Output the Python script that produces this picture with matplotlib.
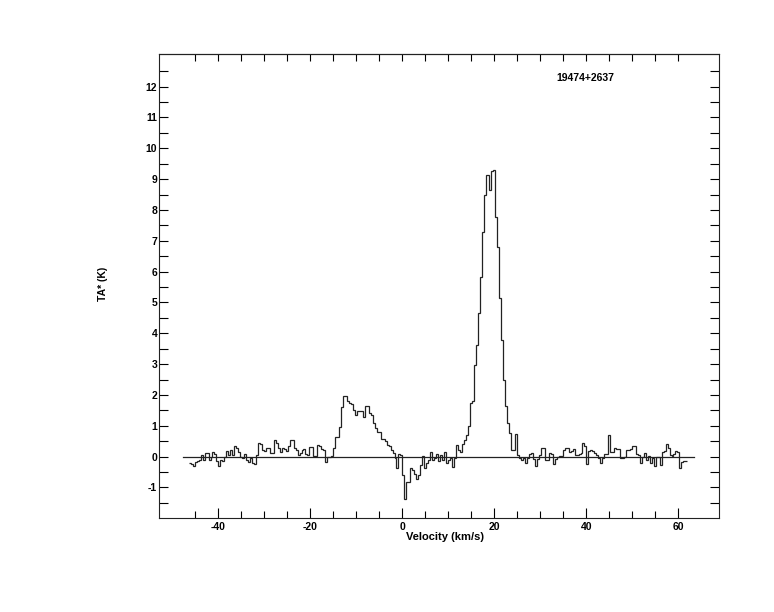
import numpy as np
import matplotlib
matplotlib.use("Agg")
import matplotlib.pyplot as plt
from matplotlib.ticker import FixedLocator

# ---- data (antenna temperature per channel, K) ----
source_name = "19474+2637"
v_start = -46.4        # km/s, left edge of first channel
channel_width = 0.430  # km/s

ta_blue_wing = [
    -0.20, -0.24, -0.29, -0.17, -0.13, -0.10, 0.05, -0.10, 0.12, 0.11,
    -0.10, -0.01, 0.16, 0.10, -0.15, -0.31, -0.10, -0.13, -0.01, 0.17,
    0.06, 0.20, 0.06, 0.36, 0.28, 0.14, -0.02, -0.06, 0.10, -0.10,
    -0.18, -0.06, -0.20, -0.23, 0.05, 0.45, 0.41, 0.23, 0.17, 0.28,
    0.28, 0.12, 0.12, 0.54, 0.44, 0.28, 0.15, 0.29, 0.26, 0.19,
    0.33, 0.55, 0.55, 0.28, 0.20, 0.06, 0.12, 0.20, 0.25, 0.10,
    0.06, 0.30, 0.30, 0.03, 0.03, 0.38, 0.33, 0.25, 0.20, -0.18,
    -0.01, -0.01,
]
ta_bump = [
    0.02, 0.28, 0.63, 0.63, 0.97, 1.60, 1.98, 1.98, 1.79, 1.75,
    1.70, 1.52, 1.36, 1.47, 1.47, 1.47, 1.27, 1.65, 1.65, 1.41,
    1.36, 1.10, 0.93, 0.79, 0.79, 0.58, 0.58, 0.50, 0.39, 0.33,
    0.23, 0.12, -0.06, -0.37, 0.07, 0.05, -0.58, -1.39,
]
ta_dip = [
    -0.83, -0.83, -0.37, -0.42, -0.55, -0.72, -0.58, -0.26, 0.01, -0.37,
    -0.20, -0.10, 0.14, -0.12, -0.04, 0.10, -0.15, 0.06, -0.10, 0.14,
    -0.20, -0.10, -0.04, -0.33, -0.05,
]
ta_peak = [
    0.37, 0.20, 0.15, 0.40, 0.55, 0.70, 0.98, 1.74, 1.79, 2.98,
    3.62, 4.65, 5.84, 7.29, 8.48, 9.13, 9.13, 8.66, 9.28, 9.30,
    7.78, 6.80, 5.14, 3.79, 2.49, 1.63, 1.10, 0.77, 0.23, 0.23,
    0.75,
]
ta_red_wing = [
    0.06, -0.04, -0.10, -0.04, -0.20, -0.04, 0.10, 0.12, -0.08, -0.31,
    -0.08, 0.06, 0.28, 0.28, -0.12, -0.10, 0.12, 0.09, -0.23, -0.08,
    -0.01, 0.03, 0.01, 0.23, 0.28, 0.28, 0.14, 0.17, 0.25, 0.06,
    0.06, 0.09, 0.12, 0.44, 0.33, -0.24, 0.17, 0.23, 0.19, 0.12,
    0.06, -0.04, -0.20, -0.04, 0.10, 0.10, 0.71, 0.15, 0.14, 0.28,
    0.26, 0.25, -0.04, -0.04, -0.01, 0.23, 0.20, 0.25, 0.36, 0.33,
    0.10, 0.06, -0.20, -0.01, 0.12, -0.12, 0.03, -0.20, -0.04, -0.31,
    -0.01, -0.01, -0.26, 0.14, 0.17, 0.42, 0.28, 0.06, 0.01, 0.10,
    0.17, 0.14, -0.37, -0.18, -0.15, -0.13,
]
baseline_range = [-47.6, 63.5]

x_major = [-40, -20, 0, 20, 40, 60]
y_major = list(range(-1, 13))

# ---- figure ----
ta = np.array(ta_blue_wing + ta_bump + ta_dip + ta_peak + ta_red_wing)
edges = v_start + channel_width * np.arange(len(ta) + 1)

plt.rcParams['font.family'] = ['Liberation Sans', 'DejaVu Sans']
plt.rcParams['font.weight'] = 'bold'
plt.rcParams['axes.unicode_minus'] = False
fs = 7.5

fig = plt.figure(figsize=(7.74, 6.12), dpi=100)
ax = fig.add_axes([0.2058, 0.1531, 0.7235, 0.7582])

ax.stairs(ta, edges, baseline=None, color='#222222', lw=0.9)
ax.plot(baseline_range, [0, 0], color='#222222', lw=0.9)

ax.set_xlim(-52.8, 68.9)
ax.set_ylim(-2.0, 13.05)

for s in ax.spines.values():
    s.set_linewidth(0.8)
    s.set_color('#222222')

ax.xaxis.set_major_locator(FixedLocator(x_major))
ax.xaxis.set_minor_locator(FixedLocator(np.arange(-45, 61, 5)))
ax.yaxis.set_major_locator(FixedLocator(y_major))
ax.yaxis.set_minor_locator(FixedLocator(np.arange(-1.5, 12.6, 0.5)))

ax.tick_params(axis='x', which='major', direction='in', length=7.2, width=0.8,
               pad=2.5, labelsize=fs, bottom=True, top=False)
ax.tick_params(axis='x', which='minor', direction='in', length=5.3, width=0.8,
               bottom=True, top=False)
ax.tick_params(axis='y', which='both', direction='in', length=6.5, width=0.8,
               pad=1.5, labelsize=fs, left=True, right=True)

secx = ax.secondary_xaxis('top')
secx.set_xticks(np.arange(-45, 61, 5))
secx.tick_params(direction='in', length=5.3, width=0.8, labeltop=False)
secx.spines['top'].set_linewidth(0.8)

for lab in ax.get_xticklabels() + ax.get_yticklabels():
    lab.set_fontweight('bold')

ax.set_xlabel('Velocity (km/s)', fontsize=8, fontweight='bold')
ax.xaxis.set_label_coords(0.51, -0.030)
ax.set_ylabel('TA* (K)', fontsize=fs, fontweight='bold')
ax.yaxis.set_label_coords(-0.092, 0.505)

ax.text(0.7096, 0.9485, source_name, transform=ax.transAxes, ha='left',
        va='center', fontsize=fs, fontweight='bold')

fig.savefig('out.png', dpi=100)
